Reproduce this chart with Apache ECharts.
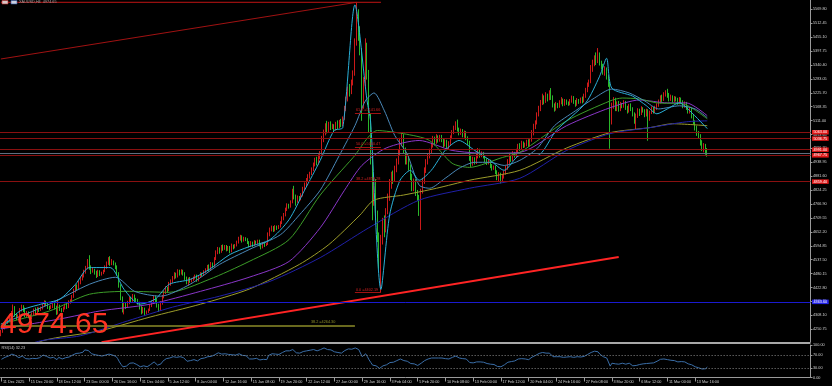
<!DOCTYPE html>
<html><head><meta charset="utf-8">
<script src="https://cdn.jsdelivr.net/npm/echarts@6/dist/echarts.min.js"></script>
<style>html,body{margin:0;padding:0;background:#000;}#c{width:832px;height:386px;}</style>
</head><body><div id="c"></div>
<script>
const xLabels = ['11 Dec 2025','15 Dec 20:00','18 Dec 12:00','23 Dec 00:00','26 Dec 16:00','31 Dec 04:00','5 Jan 12:00','8 Jan 04:00','12 Jan 16:00','15 Jan 08:00','19 Jan 20:00','22 Jan 12:00','27 Jan 00:00','29 Jan 16:00','3 Feb 04:00','5 Feb 20:00','10 Feb 08:00','13 Feb 00:00','17 Feb 12:00','20 Feb 04:00','24 Feb 16:00','27 Feb 08:00','3 Mar 20:00','6 Mar 12:00','11 Mar 00:00','13 Mar 16:00'];
const yTicks = [4250.75,4308.10,4365.45,4422.80,4480.15,4537.50,4594.85,4652.20,4709.55,4766.90,4824.25,4881.60,4938.95,4996.30,5053.65,5111.00,5168.35,5225.70,5283.05,5340.40,5397.75,5455.10,5512.45,5569.80];
const rsiTicks = [0,30,70,100];
const rsiLevels = [30,70];
// [open, close, low, high]
const ohlc = [
[4228,4240,4222,4248],[4240,4258,4236,4266],[4258,4272,4250,4280],[4272,4278,4265,4286],
[4278,4285,4272,4292],[4285,4305,4280,4312],[4305,4318,4298,4326],[4318,4340,4310,4353],[4340,4312,4302,4346],[4312,4300,4288,4318],
[4300,4306,4296,4312],
[4306,4330,4302,4338],[4330,4345,4324,4352],[4345,4335,4322,4350],[4335,4310,4300,4340],[4310,4318,4298,4326],[4318,4305,4296,4324],
[4305,4298,4288,4312],[4298,4312,4292,4320],[4312,4328,4306,4336],[4328,4318,4308,4340],[4318,4335,4314,4342],[4335,4330,4322,4340],
[4330,4338,4326,4344],[4338,4350,4332,4356],[4350,4362,4344,4370],[4362,4355,4346,4368],[4355,4342,4334,4362],[4342,4338,4330,4348],
[4338,4345,4334,4350],[4345,4352,4338,4358],[4352,4340,4332,4360],[4340,4318,4310,4348],[4318,4345,4312,4374],[4345,4332,4326,4352],
[4332,4326,4320,4338],[4326,4338,4322,4344],[4338,4350,4332,4356],[4350,4342,4334,4358],[4342,4362,4338,4370],[4362,4366,4356,4374],
[4366,4385,4362,4392],
[4385,4410,4380,4418],[4410,4428,4402,4434],[4428,4420,4412,4436],[4420,4442,4416,4450],[4442,4458,4436,4466],[4458,4470,4452,4478],
[4470,4488,4464,4496],[4488,4502,4480,4512],[4502,4528,4498,4540],[4528,4505,4496,4556],[4505,4490,4478,4514],[4490,4496,4484,4504],
[4496,4485,4476,4500],[4485,4472,4462,4492],[4472,4488,4466,4496],[4488,4478,4470,4494],[4478,4482,4472,4488],
[4482,4490,4478,4496],
[4490,4508,4486,4514],[4508,4522,4500,4530],[4522,4538,4516,4548],[4538,4525,4512,4552],[4525,4530,4515,4540],[4530,4522,4514,4534],
[4522,4510,4498,4526],
[4510,4480,4472,4514],[4480,4430,4422,4486],[4430,4380,4370,4436],[4380,4340,4320,4386],[4340,4352,4312,4360],[4352,4345,4334,4360],
[4345,4362,4340,4368],[4362,4378,4354,4386],[4378,4370,4360,4384],[4370,4388,4364,4396],[4388,4375,4368,4394],[4375,4372,4364,4380],
[4372,4360,4352,4376],[4360,4340,4332,4364],[4340,4322,4312,4346],[4322,4335,4316,4342],[4335,4318,4306,4340],[4318,4322,4312,4328],
[4322,4330,4318,4336],
[4330,4348,4326,4354],[4348,4362,4342,4370],[4362,4380,4356,4388],[4380,4372,4362,4390],[4372,4350,4340,4378],[4350,4330,4322,4356],
[4330,4358,4326,4366],
[4358,4385,4352,4392],[4385,4402,4378,4410],[4402,4420,4396,4428],[4420,4412,4402,4426],[4412,4438,4408,4446],[4438,4448,4430,4456],
[4448,4462,4442,4470],[4462,4478,4456,4486],[4478,4470,4460,4484],[4470,4490,4464,4498],[4490,4482,4472,4496],[4482,4492,4476,4498],
[4492,4480,4472,4496],[4480,4462,4454,4486],[4462,4445,4436,4468],[4445,4458,4430,4464],[4458,4450,4442,4466],[4450,4455,4444,4460],
[4455,4462,4450,4468],[4462,4470,4456,4476],[4470,4455,4446,4476],[4455,4468,4448,4474],[4468,4478,4462,4486],[4478,4475,4468,4484],
[4475,4488,4470,4494],[4488,4496,4482,4502],[4496,4510,4490,4516],[4510,4498,4488,4518],[4498,4520,4494,4528],[4520,4512,4504,4526],
[4512,4540,4508,4548],
[4540,4568,4536,4576],[4568,4582,4560,4590],[4582,4572,4562,4588],[4572,4590,4566,4598],[4590,4585,4574,4600],[4585,4592,4578,4598],
[4592,4580,4572,4598],[4580,4588,4574,4594],[4588,4572,4564,4594],[4572,4595,4568,4604],[4595,4588,4580,4600],[4588,4596,4584,4602],
[4596,4610,4592,4616],[4610,4624,4604,4632],[4624,4632,4616,4640],[4632,4618,4608,4638],[4618,4626,4612,4632],[4626,4622,4614,4630],
[4622,4610,4602,4626],[4610,4596,4588,4614],[4596,4608,4590,4614],[4608,4598,4590,4612],[4598,4612,4594,4618],[4612,4608,4600,4616],
[4608,4615,4602,4620],[4615,4600,4592,4620],[4600,4590,4580,4606],[4590,4604,4584,4610],[4604,4598,4590,4610],[4598,4602,4594,4606],
[4602,4640,4598,4650],
[4640,4662,4634,4670],[4662,4670,4654,4678],[4670,4660,4652,4676],[4660,4672,4654,4680],[4672,4668,4660,4678],[4668,4675,4664,4680],
[4675,4690,4670,4696],[4690,4708,4684,4716],[4708,4722,4700,4730],[4722,4745,4716,4752],[4745,4762,4738,4770],[4762,4758,4748,4768],
[4758,4775,4752,4782],[4775,4810,4770,4830],[4810,4798,4786,4842],[4798,4780,4760,4806],[4780,4795,4772,4802],[4795,4788,4780,4800],
[4788,4805,4782,4812],[4805,4830,4798,4838],[4830,4848,4822,4856],[4848,4865,4840,4874],[4865,4880,4858,4890],[4880,4892,4872,4900],
[4892,4910,4886,4918],[4910,4930,4902,4938],[4930,4948,4922,4958],[4948,4935,4926,4962],[4935,4960,4930,4972],[4960,4975,4952,4985],
[4975,5030,4970,5048],
[5030,5062,5022,5074],[5062,5088,5050,5100],[5088,5070,5058,5110],[5070,5095,5064,5106],[5095,5082,5072,5108],[5082,5090,5076,5098],
[5090,5075,5066,5096],[5075,5098,5070,5106],[5098,5085,5076,5112],[5085,5105,5080,5114],[5105,5092,5084,5118],[5092,5120,5088,5128],
[5120,5160,5114,5172],[5160,5198,5150,5210],[5198,5240,5190,5252],[5240,5228,5210,5262],[5228,5265,5220,5280],[5265,5300,5256,5318],
[5300,5430,5296,5450],[5430,5545,5420,5598],[5545,5480,5440,5570],[5480,5400,5380,5500],[5400,5180,5110,5410],[5180,5265,5160,5290],
[5265,5420,5250,5450],[5420,5300,5280,5432],[5300,5120,5060,5320],[5120,4960,4930,5140],[4960,4790,4700,4980],[4790,4860,4760,4890],
[4860,4720,4700,4870],
[4720,4640,4610,4740],[4640,4560,4500,4650],[4560,4625,4402,4640],[4625,4690,4600,4710],[4690,4660,4630,4720],[4660,4735,4650,4750],
[4735,4790,4725,4810],[4790,4850,4780,4870],[4850,4880,4830,4900],[4880,4868,4850,4905],[4868,4910,4860,4925],[4910,4940,4898,4955],
[4940,4975,4930,4990],[4975,5020,4965,5040],[5020,5045,5005,5062],[5045,4990,4975,5055],[4990,4945,4930,5000],[4945,4960,4930,4975],
[4960,4920,4905,4970],[4920,4880,4866,4930],[4880,4835,4820,4892],[4835,4860,4820,4872],[4860,4812,4800,4870],[4812,4795,4780,4825],
[4795,4730,4718,4805],[4730,4820,4660,4830],[4820,4860,4810,4875],[4860,4905,4850,4918],[4905,4940,4895,4952],[4940,4962,4930,4975],
[4962,4985,4955,4995],
[4985,5010,4975,5020],[5010,5035,5000,5048],[5035,5020,5008,5045],[5020,5042,5015,5055],[5042,5030,5020,5050],[5030,5045,5024,5052],
[5045,5030,5022,5052],[5030,5010,5000,5036],[5010,5025,5004,5034],[5025,4998,4988,5032],[4998,5015,4990,5026],[5015,5040,5010,5050],
[5040,5062,5034,5072],[5062,5080,5055,5090],[5080,5098,5072,5108],[5098,5075,5066,5115],[5075,5060,5050,5082],[5060,5070,5052,5078],
[5070,5050,5042,5076],[5050,5062,5040,5070],[5062,5040,5030,5068],[5040,5020,5010,5046],[5020,4960,4945,5028],[4960,4935,4920,4970],
[4935,4952,4925,4962],[4952,4940,4930,4960],[4940,4965,4932,4975],[4965,4985,4955,4998],[4985,4968,4958,4995],[4968,4975,4960,4984],
[4975,4962,4955,4982],
[4962,4950,4940,4968],[4950,4938,4928,4956],[4938,4945,4930,4952],[4945,4925,4915,4950],[4925,4915,4905,4932],[4915,4920,4908,4926],
[4920,4900,4890,4926],[4900,4878,4865,4906],[4878,4890,4860,4898],[4890,4870,4852,4896],[4870,4880,4858,4888],[4880,4895,4872,4904],
[4895,4915,4888,4924],[4915,4940,4908,4952],[4940,4962,4932,4975],[4962,4950,4940,4970],[4950,4975,4944,4985],[4975,4968,4958,4982],
[4968,4985,4960,4995],[4985,5005,4978,5015],[5005,4995,4986,5018],[4995,5015,4990,5028],[5015,5008,4998,5025],[5008,5012,5000,5020],
[5012,5025,5005,5032],[5025,5010,5002,5034],[5010,5030,5004,5038],[5030,5060,5024,5072],[5060,5085,5050,5098],[5085,5100,5076,5112],
[5100,5135,5095,5145],
[5135,5160,5128,5172],[5160,5185,5150,5196],[5185,5205,5175,5222],[5205,5190,5178,5215],[5190,5215,5184,5228],[5215,5200,5190,5222],
[5200,5225,5195,5236],[5225,5210,5196,5245],[5210,5175,5165,5215],[5175,5160,5148,5182],[5160,5178,5152,5188],[5178,5170,5162,5184],
[5170,5185,5164,5195],[5185,5195,5178,5208],[5195,5178,5170,5202],[5178,5192,5172,5200],[5192,5185,5176,5198],[5185,5180,5172,5190],
[5180,5192,5174,5200],[5192,5205,5185,5214],[5205,5190,5180,5212],[5190,5178,5168,5196],[5178,5195,5172,5204],[5195,5188,5180,5200],
[5188,5198,5182,5206],[5198,5190,5182,5210],[5190,5212,5186,5222],[5212,5235,5205,5246],[5235,5258,5228,5268],[5258,5270,5250,5280],
[5270,5320,5265,5340],
[5320,5345,5312,5362],[5345,5368,5335,5380],[5368,5355,5340,5392],[5355,5380,5348,5410],[5380,5350,5338,5392],[5350,5335,5322,5358],
[5335,5310,5300,5345],[5310,5322,5296,5335],[5322,5290,5280,5330],[5290,5262,5250,5298],[5262,5110,4995,5270],[5110,5170,5095,5185],
[5170,5195,5160,5208],[5195,5165,5150,5205],[5165,5180,5150,5190],[5180,5160,5148,5192],[5160,5178,5150,5188],[5178,5170,5162,5184],
[5170,5185,5164,5195],[5185,5165,5155,5192],[5165,5150,5140,5172],[5150,5172,5144,5180],[5172,5160,5150,5182],[5160,5138,5128,5166],
[5138,5110,5098,5145],[5110,5130,5075,5140],[5130,5150,5122,5162],[5150,5140,5130,5160],[5140,5160,5134,5170],[5160,5152,5144,5166],
[5152,5135,5125,5158],
[5135,5150,5128,5160],[5150,5120,5028,5158],[5120,5145,5110,5152],[5145,5160,5138,5170],[5160,5148,5140,5168],[5148,5162,5142,5172],
[5162,5175,5155,5182],[5175,5190,5168,5198],[5190,5205,5182,5215],[5205,5198,5188,5218],[5198,5218,5192,5228],[5218,5225,5210,5236],
[5225,5215,5205,5242],[5215,5200,5190,5225],[5200,5210,5192,5218],[5210,5195,5185,5215],[5195,5205,5188,5212],[5205,5198,5190,5210],
[5198,5185,5176,5205],[5185,5200,5178,5208],[5200,5188,5180,5206],[5188,5170,5162,5195],[5170,5182,5164,5190],[5182,5165,5155,5188],
[5165,5150,5140,5172],[5150,5158,5140,5166],[5158,5130,5120,5165],[5130,5105,5095,5138],[5105,5080,5070,5112],[5080,5060,5048,5090],
[5060,5048,5035,5068],
[5048,5020,5008,5055],[5020,4995,4985,5030],[4995,5010,4980,5018],[5010,4985,4970,5015],[4985,4974.65,4962,4998]
];
const rsi = [
56,58,62,64,66,70,72,75,68,62, 61,64,66,63,58,60,57,56,59,60, 58,62,61,63,69,67,65,62,60,61, 62,60,55,62,59,57,59,61,56,63,
64,69,72,74,72,75,77,78,85,84, 83,79,73,74,70,66,68,64,66,67, 69,70,72,68,69,68,65,58,48,40, 33,37,35,40,44,41,45,42,40,38,
33,30,36,31,33,35,40,44,48,45, 38,33,42,50,54,58,56,60,62,64, 66,62,66,64,65,61,55,50,54,52, 53,55,57,51,55,58,57,60,62,64,
60,65,62,70,74,76,75,72,74,73, 70,71,65,70,68,69,71,73,74,68, 69,67,62,57,61,57,61,59,60,54, 50,56,53,55,68,72,73,70,72,70,
71,74,77,79,82,84,82,83,86,85, 76,78,75,77,80,81,82,83,84,85, 86,86,82,85,86,90,91,92,86,88, 85,84,79,81,77,79,75,79,83,86,
88,85,87,88,91,93,86,80,64,67, 73,64,54,46,38,42,36,32,28,32, 36,35,39,42,46,48,47,50,52,54, 57,58,52,48,50,46,43,39,42,38,
37,33,44,48,52,55,57,58,60,62, 60,62,60,61,60,57,58,55,57,59, 62,64,66,62,60,61,58,60,57,54, 46,42,45,44,48,51,48,49,47,45,
43,44,41,39,40,37,34,37,33,36, 39,43,47,51,49,53,51,54,57,55, 58,56,57,58,55,58,63,66,68,72, 74,76,77,73,75,72,75,72,64,61,
64,62,64,66,62,65,63,62,64,66, 62,60,64,62,63,62,65,68,71,72, 77,79,81,77,79,72,68,64,66,60, 55,35,44,48,42,45,41,45,44,46,
41,38,44,41,36,32,37,42,40,44, 42,39,43,37,44,47,45,48,50,53, 56,54,57,58,55,51,53,50,52,51, 48,51,49,45,48,44,42,44,39,36,
33,31,30,28,26,30,27,32.23
];
// moving-average style lines read at points: [bar index, price]
const maFast = [[0,4252],[11,4326],[23,4354],[34,4375],[43,4436],[51,4505],[63,4505],[71,4415],[80,4354],[89,4375],[97,4436],[109,4456],[120,4497],[132,4559],[143,4591],[155,4620],[166,4702],[175,4824],[184,4947],[192,5070],[197,5082],[204,5588],[211,5192],[213,5110],[219,4415],[224,4722],[230,4865],[236,4906],[241,4865],[248,4906],[256,4988],[264,5029],[273,4988],[282,4947],[290,4906],[299,4967],[309,4967],[320,5070],[337,5184],[345,5294],[349,5368],[352,5245],[364,5212],[372,5172],[378,5139],[384,5159],[391,5184],[397,5151],[407,5078]];
const maSteel = [[0,4272],[28,4354],[51,4436],[66,4465],[77,4407],[92,4387],[109,4436],[126,4518],[143,4579],[161,4640],[172,4722],[184,4824],[195,4967],[204,5090],[210,5192],[215,5225],[221,5151],[227,5049],[234,4975],[241,4845],[247,4832],[256,4873],[264,4914],[273,4939],[282,4939],[290,4926],[299,4947],[309,4996],[319,5090],[331,5151],[342,5204],[352,5241],[362,5225],[371,5192],[379,5159],[391,5172],[400,5159],[407,5123]];
const maGreen = [[0,4272],[28,4326],[51,4395],[74,4407],[97,4403],[120,4456],[143,4530],[166,4620],[184,4804],[203,4959],[217,5070],[232,5057],[247,5029],[260,4935],[270,4918],[289,4959],[299,4980],[326,5110],[351,5192],[358,5204],[368,5200],[378,5184],[393,5180],[407,5118]];
const maPurple = [[0,4252],[34,4293],[57,4326],[86,4354],[115,4407],[143,4465],[166,4530],[184,4669],[198,4824],[208,4926],[222,4998],[241,5029],[260,4988],[280,4976],[299,4980],[326,5090],[351,5164],[368,5196],[384,5184],[395,5184],[407,5131]];
const maNavy = [[0,4150],[23,4203],[46,4224],[73,4285],[99,4342],[126,4387],[155,4448],[184,4546],[212,4669],[241,4783],[270,4832],[299,4873],[326,4988],[351,5057],[374,5082],[395,5106],[407,5110]];
const maOlive = [[0,4120],[24,4203],[57,4244],[86,4301],[115,4354],[143,4416],[172,4518],[189,4600],[207,4722],[215,4783],[232,4804],[251,4832],[270,4865],[299,4906],[326,4998],[351,5061],[374,5082],[387,5098],[407,5090]];
// drawn objects
const redLevels = [5063.00, 5036.75, 4991.00, 4967.75, 4859.40];
const blueLevel = 4363.60;
const bidPrice = 4974.65;
const fibLow = 4402.19, fibHigh = 5598.75;
const fibRatios = [61.8, 50.0, 38.2, 0.0];
const fibStart = 204, fibEnd = 219;
const trendUp = [[58, 4197.6], [356, 4548.6]];
const trendTop = [[0, 5365], [205, 5598.75]];
const topLine = [[0, 5598.75], [219, 5598.75]];
const oliveLine = [[0, 4264.30], [204, 4264.30]];
const oliveLabel = '38.2 =4264.30';

const NCAT = 467;
const cats = Array.from({length: NCAT}, (_, i) => String(i));
const FS = 3.8;
const FONT = 'Liberation Sans, Arial, sans-serif';
const isLab = (i) => i % 16 === 0 && i / 16 < xLabels.length;

const fibData = fibRatios.map(r => {
  const v = +(fibLow + (fibHigh - fibLow) * r / 100).toFixed(2);
  return [
    {coord: [fibStart, v], lineStyle: {color: '#a01212', width: 1, type: 'solid'},
     label: {show: true, position: 'insideStartTop', formatter: r.toFixed(1) + ' =' + v.toFixed(2), color: '#d02020', fontSize: FS, fontFamily: FONT, distance: 1}},
    {coord: [fibEnd, v]}
  ];
});

const levelLines = redLevels.map(v => ({
  yAxis: v, lineStyle: {color: '#8a1010', width: 1, type: 'solid'},
  label: {show: true, position: 'end', formatter: v.toFixed(2), backgroundColor: '#e01818', color: '#ffffff', fontSize: FS, fontFamily: FONT, padding: [0.5, 1.5, 0, 1.5], distance: 1.5}
}));

const maSeries = (data, color) => ({
  type: 'line', data: data, xAxisIndex: 0, yAxisIndex: 0, showSymbol: false, symbol: 'none',
  smooth: 0.25, lineStyle: {color: color, width: 1}, silent: true, z: 3
});
const segSeries = (data, color, width, label) => ({
  type: 'line', data: data, xAxisIndex: 0, yAxisIndex: 0, showSymbol: false, symbol: 'none',
  lineStyle: {color: color, width: width}, silent: true, z: 4,
  endLabel: label ? {show: true, formatter: label, color: color, fontSize: FS, fontFamily: FONT, offset: [-52, -4]} : undefined
});

const chart = echarts.init(document.getElementById('c'), null, {renderer: 'canvas'});
chart.setOption({
  backgroundColor: '#000000',
  animation: false,
  grid: [
    {left: 0, right: 21.5, top: 0, height: 342},
    {left: 0, right: 21.5, top: 345, height: 32.5}
  ],
  xAxis: [
    {type: 'category', gridIndex: 0, data: cats, boundaryGap: true, axisLine: {show: false}, axisTick: {show: false}, axisLabel: {show: false}, splitLine: {show: false}},
    {type: 'category', gridIndex: 1, data: cats, boundaryGap: true,
     axisLine: {show: true, lineStyle: {color: '#9a9a9a', width: 1}},
     axisTick: {show: true, alignWithLabel: true, interval: (i) => isLab(i), length: 4, lineStyle: {color: '#9a9a9a'}},
     axisLabel: {show: true, interval: (i) => isLab(i), formatter: (v, i) => xLabels[i / 16] || '', align: 'left', margin: 2, padding: [0, 0, 0, 1.5], color: '#d0d0d0', fontSize: FS, fontFamily: FONT},
     splitLine: {show: false}}
  ],
  yAxis: [
    {type: 'value', gridIndex: 0, position: 'right', min: 4198.1, max: 5608.2, scale: true,
     axisLine: {show: true, lineStyle: {color: '#9a9a9a'}},
     axisTick: {show: true, customValues: yTicks, length: 2, lineStyle: {color: '#9a9a9a'}},
     axisLabel: {show: true, customValues: yTicks, formatter: (v) => v.toFixed(2), color: '#d0d0d0', fontSize: FS, fontFamily: FONT, margin: 2.5},
     splitLine: {show: false}},
    {type: 'value', gridIndex: 1, position: 'right', min: 0, max: 100,
     axisLine: {show: true, lineStyle: {color: '#9a9a9a'}},
     axisTick: {show: true, customValues: rsiTicks, length: 2, lineStyle: {color: '#9a9a9a'}},
     axisLabel: {show: true, customValues: rsiTicks, formatter: (v) => v.toFixed(2), color: '#d0d0d0', fontSize: FS, fontFamily: FONT, margin: 2.5},
     splitLine: {show: false}}
  ],
  series: [
    {type: 'candlestick', name: 'XAUUSD', xAxisIndex: 0, yAxisIndex: 0, data: ohlc, barWidth: 1.2, z: 2,
     itemStyle: {color: '#ff2020', color0: '#33e633', borderColor: '#ff2020', borderColor0: '#33e633', borderWidth: 0.8},
     markLine: {symbol: ['none', 'none'], silent: true, animation: false, z: 6,
       data: levelLines.concat([
         {yAxis: blueLevel, lineStyle: {color: '#1a1ad0', width: 1, type: 'solid'},
          label: {show: true, position: 'end', formatter: blueLevel.toFixed(2), backgroundColor: '#2424e8', color: '#ffffff', fontSize: FS, fontFamily: FONT, padding: [0.5, 1.5, 0, 1.5], distance: 1.5}},
         {yAxis: bidPrice, lineStyle: {color: '#5e6e80', width: 1, type: 'solid'}, label: {show: false}}
       ]).concat(fibData)
     }},
    maSeries(maOlive, '#9c9c2a'),
    maSeries(maNavy, '#2020a8'),
    maSeries(maPurple, '#8a36c8'),
    maSeries(maGreen, '#3c9c28'),
    maSeries(maSteel, '#4a88b8'),
    maSeries(maFast, '#2ab0d8'),
    segSeries(trendTop, '#a01212', 1),
    segSeries(topLine, '#c01414', 1, '100.0 =' + fibHigh.toFixed(2)),
    segSeries(oliveLine, '#8c8c28', 1.6, oliveLabel),
    segSeries(trendUp, '#ff2424', 2),
    {type: 'line', xAxisIndex: 1, yAxisIndex: 1, data: rsi, showSymbol: false, symbol: 'none',
     lineStyle: {color: '#3a6ea8', width: 1}, silent: true, z: 3,
     markLine: {symbol: ['none', 'none'], silent: true, label: {show: false},
       data: rsiLevels.map(v => ({yAxis: v, lineStyle: {color: '#8a8a8a', width: 1, type: [1, 2]}}))}}
  ],
  graphic: [
    {type: 'rect', shape: {x: 0, y: 342, width: 810.5, height: 2}, style: {fill: '#a8a8a8'}, z: 10},
    {type: 'rect', shape: {x: 2, y: 0.5, width: 6, height: 3.5}, style: {fill: '#d8c8c8', stroke: '#c03030', lineWidth: 0.6}, z: 10},
    {type: 'rect', shape: {x: 11, y: 0.5, width: 6, height: 3.5}, style: {fill: '#c8d0e0', stroke: '#3050a0', lineWidth: 0.6}, z: 10},
    {type: 'text', x: 19, y: 2.2, style: {text: 'XAUUSD,H4  4974.65', fill: '#a0a0a0', font: FS + 'px ' + FONT, verticalAlign: 'middle'}, z: 10},
    {type: 'text', x: 1.5, y: 347.5, style: {text: 'RSI(14) 32.23', fill: '#c8c8c8', font: FS + 'px ' + FONT, verticalAlign: 'middle'}, z: 10},
    {type: 'text', x: 0, y: 324.5, style: {text: '4974.65', fill: '#ff3322', font: '30px Liberation Sans, Arial, sans-serif', verticalAlign: 'middle'}, z: 10}
  ]
});
</script></body></html>
